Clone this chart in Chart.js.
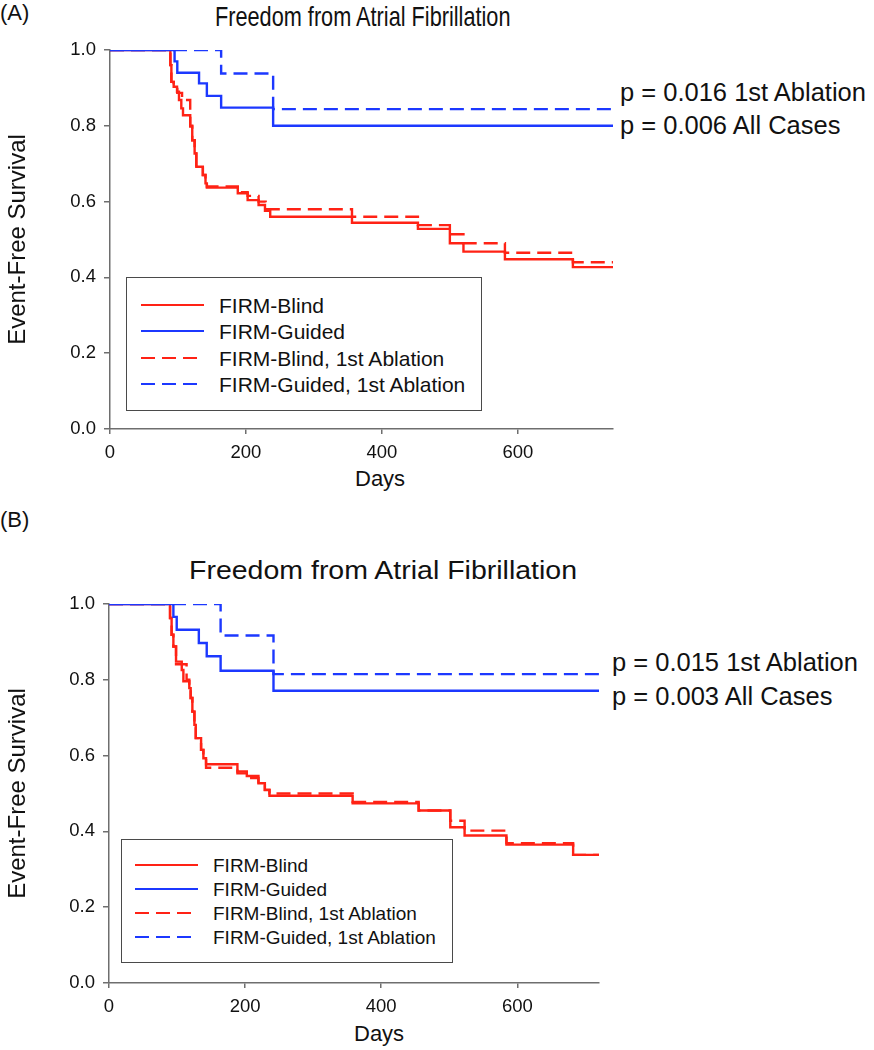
<!DOCTYPE html>
<html>
<head>
<meta charset="utf-8">
<script src="https://cdn.jsdelivr.net/npm/chart.js"></script>
<style>
  body {
    margin: 0;
    width: 874px;
    height: 1050px;
    position: relative;
    overflow: hidden;
    background: #fff;
    font-family: "Liberation Sans", Arial, sans-serif;
    color: #111;
  }
  canvas { position: absolute; left: 0; }
  .txt { position: absolute; white-space: nowrap; line-height: 1; }
  .legend { position: absolute; border: 1.5px solid #4a4a4a; background: #fff; box-sizing: border-box; }
  .sample { position: absolute; height: 2.4px; }
</style>
</head>
<body>

<div class="txt" style="left:0; top:2px; font-size:22px;">(A)</div>
<div class="txt" style="left:215px; top:3px; font-size:28px; transform:scaleX(0.775); transform-origin:left;">Freedom from Atrial Fibrillation</div>
<div class="txt" style="left:620px; top:80px; font-size:25.5px;">p = 0.016 1st Ablation</div>
<div class="txt" style="left:620px; top:113px; font-size:25.5px;">p = 0.006 All Cases</div>
<div class="txt" style="left:355px; top:468px; font-size:22px;">Days</div>

<div class="txt" style="left:0; top:509px; font-size:22px;">(B)</div>
<div class="txt" style="left:189px; top:558px; font-size:25px; transform:scaleX(1.14); transform-origin:left;">Freedom from Atrial Fibrillation</div>
<div class="txt" style="left:612px; top:650px; font-size:25.5px;">p = 0.015 1st Ablation</div>
<div class="txt" style="left:612px; top:684px; font-size:25.5px;">p = 0.003 All Cases</div>
<div class="txt" style="left:354px; top:1023px; font-size:22px;">Days</div>

<canvas id="chartA" width="640" height="480" style="top:30px;"></canvas>
<canvas id="chartB" width="640" height="466" style="top:584px;"></canvas>

<div id="legendA" class="legend" style="left:126px; top:277px; width:356px; height:134px;"></div>
<div id="legendB" class="legend" style="left:121px; top:839px; width:332px; height:124px;"></div>

<script>
// Series names, in legend order
const seriesLabels = ["FIRM-Blind", "FIRM-Guided", "FIRM-Blind, 1st Ablation", "FIRM-Guided, 1st Ablation"];
const seriesColors = ["#ff2215", "#1c38ff", "#ff2215", "#1c38ff"];
const seriesDashed = [false, false, true, true];

// Axis ticks
const xTicks = [0, 200, 400, 600];
const yTicks = [0, 0.2, 0.4, 0.6, 0.8, 1.0];

// (A) step points: day of event, survival after it
const aBlindDays = [0, 88.8, 90.3, 93.7, 98.6, 101.5, 104.9, 107.4, 118, 121, 124.5, 127, 136.6, 140.5, 142.5, 188, 202.5, 218.6, 228, 235.7, 356, 453, 500, 520, 581, 681, 740];
const aBlindSurv = [1, 0.96, 0.916, 0.903, 0.89, 0.868, 0.846, 0.828, 0.798, 0.762, 0.727, 0.692, 0.67, 0.648, 0.637, 0.622, 0.604, 0.591, 0.576, 0.56, 0.544, 0.528, 0.49, 0.468, 0.448, 0.427, 0.427];
const aGuidedDays = [0, 95, 99, 131, 142.5, 163.5, 240, 740];
const aGuidedSurv = [1, 0.97, 0.94, 0.912, 0.879, 0.848, 0.80, 0.80];
const aBlindFirstDays = [0, 88.8, 90.3, 93.7, 99, 106, 118, 121, 124.5, 127, 136.6, 140.5, 142.5, 188, 202.5, 218.6, 229, 356, 453, 500, 520, 581, 681, 740];
const aBlindFirstSurv = [1, 0.96, 0.916, 0.903, 0.887, 0.868, 0.80, 0.762, 0.727, 0.692, 0.67, 0.648, 0.64, 0.625, 0.615, 0.60, 0.58, 0.56, 0.538, 0.514, 0.49, 0.465, 0.44, 0.44];
const aGuidedFirstDays = [0, 163.5, 240, 740];
const aGuidedFirstSurv = [1, 0.938, 0.844, 0.844];

// (B) step points
const bBlindDays = [0, 89.7, 92, 94.6, 98.5, 106.9, 109.3, 118, 120, 122.5, 125.5, 127.5, 135.3, 138.7, 142.6, 188.7, 202.5, 219.6, 229, 235.8, 358, 455, 501.5, 522.5, 584, 682, 720];
const bBlindSurv = [1, 0.963, 0.919, 0.888, 0.848, 0.826, 0.796, 0.778, 0.752, 0.716, 0.681, 0.646, 0.615, 0.593, 0.577, 0.558, 0.546, 0.527, 0.509, 0.494, 0.474, 0.455, 0.411, 0.389, 0.365, 0.338, 0.338];
const bGuidedDays = [0, 94.6, 99.5, 132, 143.6, 164, 241.7, 720];
const bGuidedSurv = [1, 0.966, 0.932, 0.897, 0.862, 0.824, 0.771, 0.771];
const bBlindFirstDays = [0, 89.7, 92, 94.6, 98.5, 114, 118, 120, 122.5, 125.5, 127.5, 135.3, 138.7, 142.6, 188.7, 202.5, 219.6, 229, 235.8, 358, 455, 501.5, 522.5, 584, 682, 720];
const bBlindFirstSurv = [1, 0.963, 0.919, 0.888, 0.841, 0.80, 0.778, 0.752, 0.716, 0.681, 0.646, 0.615, 0.593, 0.568, 0.553, 0.541, 0.523, 0.51, 0.50, 0.478, 0.455, 0.428, 0.402, 0.369, 0.338, 0.338];
const bGuidedFirstDays = [0, 164, 241.7, 720];
const bGuidedFirstSurv = [1, 0.917, 0.815, 0.815];

const FONT = "'Liberation Sans', Arial, sans-serif";
const AXIS_GREY = "#6e6e6e";

function toPoints(days, surv) {
  return days.map((d, i) => ({ x: d, y: surv[i] }));
}

function makeDataset(idx, days, surv) {
  return {
    label: seriesLabels[idx],
    data: toPoints(days, surv),
    borderColor: seriesColors[idx],
    borderWidth: 2.4,
    borderDash: seriesDashed[idx] ? [14, 7] : [],
    borderCapStyle: "butt",
    borderJoinStyle: "miter",
    stepped: "before",
    pointRadius: 0,
    fill: false,
  };
}

function createKM(canvasId, series, xMax, pad, yWidth) {
  const ctx = document.getElementById(canvasId).getContext("2d");
  // blue drawn above red: first dataset ends up on top
  const order = [1, 3, 0, 2];
  return new Chart(ctx, {
    type: "line",
    data: {
      datasets: order.map((i) => makeDataset(i, series[i][0], series[i][1])),
    },
    options: {
      responsive: false,
      animation: false,
      devicePixelRatio: 1,
      layout: { padding: pad },
      plugins: {
        legend: { display: false },
        tooltip: { enabled: false },
      },
      scales: {
        x: {
          type: "linear",
          min: 0,
          max: xMax,
          afterBuildTicks: (scale) => {
            scale.ticks = xTicks.map((v) => ({ value: v }));
          },
          afterFit: (scale) => {
            scale.height = 50;
          },
          border: { display: true, color: AXIS_GREY, width: 1.5 },
          grid: { display: true, drawOnChartArea: false, tickLength: 5, color: AXIS_GREY, lineWidth: 1.5 },
          ticks: { color: "#111", font: { family: FONT, size: 18.5 }, padding: 8, maxRotation: 0 },
        },
        y: {
          type: "linear",
          min: 0,
          max: 1,
          afterBuildTicks: (scale) => {
            scale.ticks = yTicks.map((v) => ({ value: v }));
          },
          afterFit: (scale) => {
            scale.width = yWidth;
          },
          border: { display: true, color: AXIS_GREY, width: 1.5 },
          grid: { display: true, drawOnChartArea: false, tickLength: 6, color: AXIS_GREY, lineWidth: 1.5 },
          ticks: {
            color: "#111",
            font: { family: FONT, size: 18.5 },
            padding: 8,
            callback: (v) => Number(v).toFixed(1),
          },
          title: {
            display: true,
            text: "Event-Free Survival",
            color: "#111",
            font: { family: FONT, size: 24 },
            padding: { top: 4, bottom: 0 },
          },
        },
      },
    },
  });
}

function buildLegend(id, rows, fontSize, sampleLeft, textLeft) {
  const box = document.getElementById(id);
  box.innerHTML = seriesLabels
    .map((label, i) => {
      const top = rows[i];
      const bg = seriesDashed[i]
        ? `repeating-linear-gradient(to right, ${seriesColors[i]} 0 14px, transparent 14px 21px)`
        : seriesColors[i];
      const w = seriesDashed[i] ? 56 : 63;
      return `
        <div class="sample" style="left:${sampleLeft}px; top:${top - 1.2}px; width:${w}px; background:${bg};"></div>
        <div class="txt" style="left:${textLeft}px; top:${top - 0.49 * fontSize}px; font-size:${fontSize}px;">${label}</div>`;
    })
    .join("");
}

createKM(
  "chartA",
  [
    [aBlindDays, aBlindSurv],
    [aGuidedDays, aGuidedSurv],
    [aBlindFirstDays, aBlindFirstSurv],
    [aGuidedFirstDays, aGuidedFirstSurv],
  ],
  740,
  { left: 0, top: 20, right: 27, bottom: 31 },
  110
);

createKM(
  "chartB",
  [
    [bBlindDays, bBlindSurv],
    [bGuidedDays, bGuidedSurv],
    [bBlindFirstDays, bBlindFirstSurv],
    [bGuidedFirstDays, bGuidedFirstSurv],
  ],
  720,
  { left: 0, top: 20, right: 41, bottom: 17 },
  109
);

// legend rows: vertical centres inside the box
buildLegend("legendA", [27, 53, 80, 106], 21, 14, 92);
buildLegend("legendB", [25, 49, 73, 97], 19, 13, 91);
</script>
</body>
</html>
